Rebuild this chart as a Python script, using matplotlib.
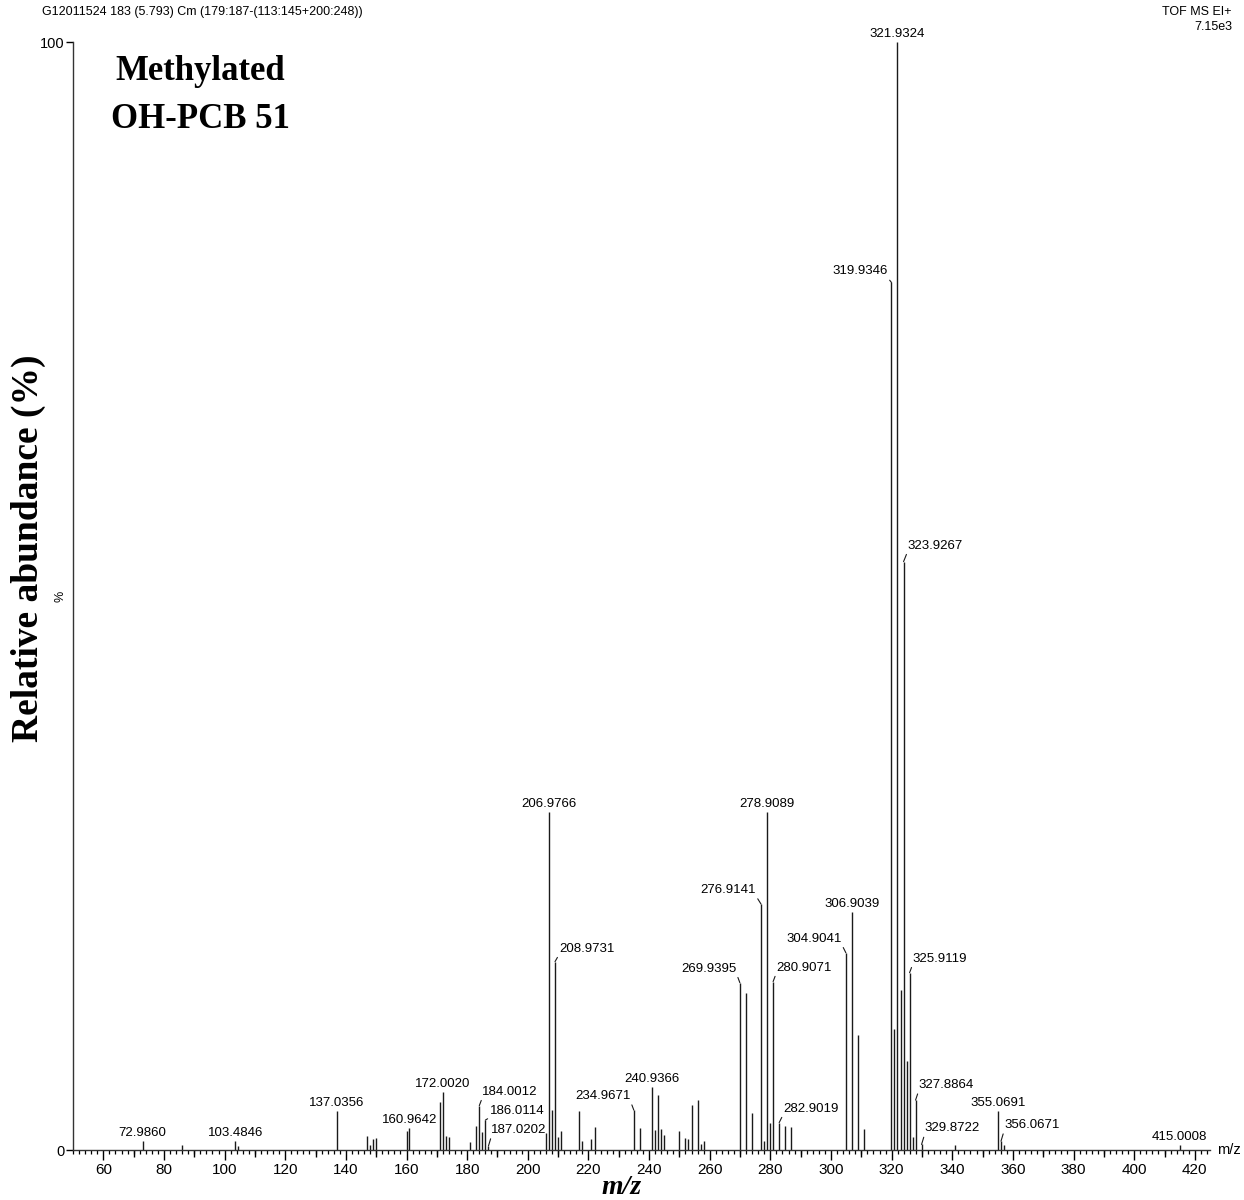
import matplotlib.pyplot as plt
from matplotlib.ticker import MultipleLocator, NullFormatter

# Spectrum peaks: m/z and relative abundance (%)
mz = [72.9860, 86.0, 103.4846, 104.5, 137.0356, 147.0, 148.0, 149.0, 150.0,
      160.0, 160.9642, 171.0, 172.0020, 173.0, 174.0, 181.0, 183.0, 184.0012,
      185.0, 186.0114, 187.0202, 206.0, 206.9766, 208.0, 208.9731, 210.0, 211.0,
      217.0, 218.0, 221.0, 222.0, 234.9671, 237.0, 240.9366, 242.0, 243.0, 244.0,
      245.0, 250.0, 252.0, 253.0, 254.0, 256.0, 257.0, 258.0, 269.9395, 271.9,
      273.9, 276.9141, 277.9, 278.9089, 279.9, 280.9071, 282.9019, 284.9, 286.9,
      304.9041, 306.9039, 308.9, 310.9, 319.9346, 320.93, 321.9324, 322.93,
      323.9267, 324.93, 325.9119, 326.9, 327.8864, 329.8722, 341.0, 355.0691,
      356.0671, 357.0, 415.0008]
abundance = [0.8, 0.45, 0.8, 0.4, 3.5, 1.26, 0.45, 0.96, 1.05,
             1.7, 2.0, 4.36, 5.2, 1.26, 1.17, 0.69, 2.17, 4.0,
             1.65, 2.7, 0.36, 1.5, 30.5, 3.6, 17.0, 1.15, 1.7,
             3.5, 0.8, 1.0, 2.05, 3.6, 2.0, 5.7, 1.8, 4.96, 1.87,
             1.35, 1.7, 1.1, 0.96, 4.1, 4.5, 0.5, 0.84, 15.1, 14.2,
             3.3, 22.2, 0.84, 30.5, 2.47, 15.2, 2.47, 2.17, 2.08,
             17.8, 21.5, 10.4, 1.87, 78.3, 10.95, 100.0, 14.4,
             53.1, 8.0, 16.0, 1.2, 4.5, 0.5, 0.45, 3.5,
             0.8, 0.45, 0.45]

# Peaks that carry an m/z label
labelled = [72.9860, 103.4846, 137.0356, 160.9642, 172.0020, 184.0012, 186.0114,
            187.0202, 206.9766, 208.9731, 234.9671, 240.9366, 269.9395, 276.9141,
            278.9089, 280.9071, 282.9019, 304.9041, 306.9039, 319.9346, 321.9324,
            323.9267, 325.9119, 327.8864, 329.8722, 355.0691, 356.0671, 415.0008]

# label placement: (side, dx, dy) in pixels from the peak top
label_pos = {
    184.0012: ('left', 3, 8), 186.0114: ('left', 5, 3), 187.0202: ('left', 3, 10),
    208.9731: ('left', 4, 7), 234.9671: ('right', -3, 8), 269.9395: ('right', -3, 8),
    276.9141: ('right', -5, 8), 280.9071: ('left', 3, 8), 282.9019: ('left', 4, 8),
    304.9041: ('right', -4, 8), 319.9346: ('right', -4, 5), 323.9267: ('left', 4, 10),
    325.9119: ('left', 3, 8), 327.8864: ('left', 3, 9), 329.8722: ('left', 3, 10),
    356.0671: ('left', 3, 10),
}

sans = 'Liberation Sans'
serif = 'Liberation Serif'

fig = plt.figure(figsize=(12.44, 12.0), dpi=100)
ax = fig.add_axes([73 / 1244, 1 - 1150 / 1200, (1210 - 73) / 1244, (1150 - 42) / 1200])

ax.vlines(mz, 0, abundance, color='#1a1a1a', linewidth=1.0)

lookup = dict(zip(mz, abundance))
for m in labelled:
    h = lookup[m]
    side, dx, dy = label_pos.get(m, ('center', 0, 2))
    if side == 'center':
        ax.annotate(f'{m:.4f}', xy=(m, h), xytext=(dx, dy), textcoords='offset pixels',
                    ha='center', va='bottom', fontsize=9.5, family=sans)
    else:
        ha = 'left' if side == 'left' else 'right'
        rel = (0, 0) if side == 'left' else (1, 0)
        ax.annotate(f'{m:.4f}', xy=(m, h), xytext=(dx, dy), textcoords='offset pixels',
                    ha=ha, va='bottom', fontsize=9.5, family=sans,
                    arrowprops=dict(arrowstyle='-', color='#1a1a1a', lw=0.8,
                                    shrinkA=0, shrinkB=0, relpos=rel))

ax.set_xlim(50, 425)
ax.set_ylim(0, 100)
for s in ('top', 'right'):
    ax.spines[s].set_visible(False)
for s in ('left', 'bottom'):
    ax.spines[s].set_linewidth(1.0)
    ax.spines[s].set_color('#333333')

ax.xaxis.set_major_locator(MultipleLocator(20))
ax.xaxis.set_minor_locator(MultipleLocator(2))
ax.tick_params(axis='x', which='major', length=7, width=1.0, labelsize=11, pad=2)
ax.tick_params(axis='x', which='minor', length=3, width=0.9)
for lbl in ax.get_xticklabels():
    lbl.set_family(sans)

# medium ticks at the odd tens
sec = ax.secondary_xaxis('bottom')
sec.set_xticks(list(range(70, 421, 20)))
sec.xaxis.set_major_formatter(NullFormatter())
sec.tick_params(length=5, width=1.0)
sec.spines['bottom'].set_visible(False)

ax.set_yticks([0, 100])
ax.set_yticklabels(['0', '100'], family=sans, fontsize=10.5)
ax.tick_params(axis='y', length=5, width=1.0, pad=1)

ax.text(-0.006, 0.5, '%', transform=ax.transAxes, rotation=90, ha='right', va='center',
        fontsize=9, family=sans)
ax.text(1.006, 0.0, 'm/z', transform=ax.transAxes, ha='left', va='center',
        fontsize=10.5, family=sans)

fig.text(42 / 1244, 1 - 12 / 1200, 'G12011524 183 (5.793) Cm (179:187-(113:145+200:248))',
         ha='left', va='center', fontsize=9, family=sans)
fig.text(1232 / 1244, 1 - 12 / 1200, 'TOF MS EI+', ha='right', va='center',
         fontsize=9, family=sans)
fig.text(1232 / 1244, 1 - 27 / 1200, '7.15e3', ha='right', va='center',
         fontsize=9, family=sans)

fig.text(200 / 1244, 1 - 72 / 1200, 'Methylated', ha='center', va='center',
         fontsize=25, fontweight='bold', family=serif)
fig.text(200 / 1244, 1 - 119 / 1200, 'OH-PCB 51', ha='center', va='center',
         fontsize=25, fontweight='bold', family=serif)

fig.text(28 / 1244, 1 - 548 / 1200, 'Relative abundance (%)', rotation=90,
         ha='center', va='center', fontsize=27, fontweight='bold', family=serif)
fig.text(622 / 1244, 1 - 1194 / 1200, 'm/z', ha='center', va='baseline',
         fontsize=20, fontweight='bold', fontstyle='italic', family=serif)

fig.savefig('out.png', dpi=100)
